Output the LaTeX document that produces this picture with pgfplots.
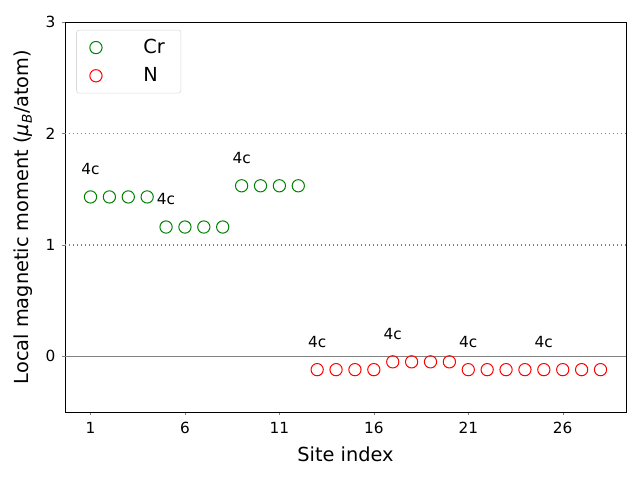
\documentclass[border=0pt]{standalone}
\usepackage{pgfplots}
\pgfplotsset{compat=1.18}
\usepackage{fontspec}
\setmainfont{DejaVu Sans}
\begin{document}
\begin{tikzpicture}
\begin{axis}[
  scale only axis,
  width=420.75pt, height=292.5pt,
  xmin=-0.35, xmax=29.35, ymin=-0.5, ymax=3,
  xtick={1,6,11,16,21,26}, ytick={0,1,2,3},
  /pgf/number format/assume math mode=true,
  tick label style={font=\fontsize{11.5}{12}\selectfont},
  xticklabel style={yshift=-1.5pt},
  yticklabel style={xshift=-1pt},
  label style={font=\fontsize{14.5}{16}\selectfont},
  xlabel={Site index},
  ylabel={Local magnetic moment (\textit{μ}\textsubscript{\textit{B}}/atom)},
  xlabel style={yshift=-3pt},
  ylabel style={yshift=3pt},
  tick align=outside, tick pos=left,
  major tick length=2.6pt,
  axis line style={line width=0.6pt},
  legend style={at={(0.02,0.98)}, anchor=north west, draw=gray!30, rounded corners=2pt,
    font=\fontsize{14.5}{16}\selectfont, row sep=5pt, inner xsep=10pt, inner ysep=5pt},
  legend cell align=left,
  clip=false,
]
\addplot[only marks, mark=o, mark size=4.6pt, color=green!50!black, mark options={line width=0.75pt}] coordinates {
(1,1.43) (2,1.43) (3,1.43) (4,1.43)
(5,1.16) (6,1.16) (7,1.16) (8,1.16)
(9,1.53) (10,1.53) (11,1.53) (12,1.53)
};
\addlegendentry{\qquad Cr}
\addplot[only marks, mark=o, mark size=4.6pt, color=red, mark options={line width=0.75pt}] coordinates {
(13,-0.12) (14,-0.12) (15,-0.12) (16,-0.12)
(17,-0.05) (18,-0.05) (19,-0.05) (20,-0.05)
(21,-0.12) (22,-0.12) (23,-0.12) (24,-0.12)
(25,-0.12) (26,-0.12) (27,-0.12) (28,-0.12)
};
\addlegendentry{\qquad N}
\addplot[gray, line width=1.1pt, forget plot] coordinates {(-0.35,0) (29.35,0)};
\addplot[gray, line width=1.1pt, dash pattern=on 1pt off 2pt, forget plot] coordinates {(-0.35,1) (29.35,1)};
\addplot[gray, line width=1.1pt, dash pattern=on 1pt off 2pt, forget plot] coordinates {(-0.35,2) (29.35,2)};
\node[font=\fontsize{11.5}{12}\selectfont] at (axis cs:1,1.68) {4c};
\node[font=\fontsize{11.5}{12}\selectfont] at (axis cs:5,1.41) {4c};
\node[font=\fontsize{11.5}{12}\selectfont] at (axis cs:9,1.78) {4c};
\node[font=\fontsize{11.5}{12}\selectfont] at (axis cs:13,0.13) {4c};
\node[font=\fontsize{11.5}{12}\selectfont] at (axis cs:17,0.20) {4c};
\node[font=\fontsize{11.5}{12}\selectfont] at (axis cs:21,0.13) {4c};
\node[font=\fontsize{11.5}{12}\selectfont] at (axis cs:25,0.13) {4c};
\end{axis}
\path ([xshift=-48.75pt,yshift=-51pt]current axis.south west) rectangle ([xshift=10.5pt,yshift=16.5pt]current axis.north east);
\end{tikzpicture}
\end{document}
